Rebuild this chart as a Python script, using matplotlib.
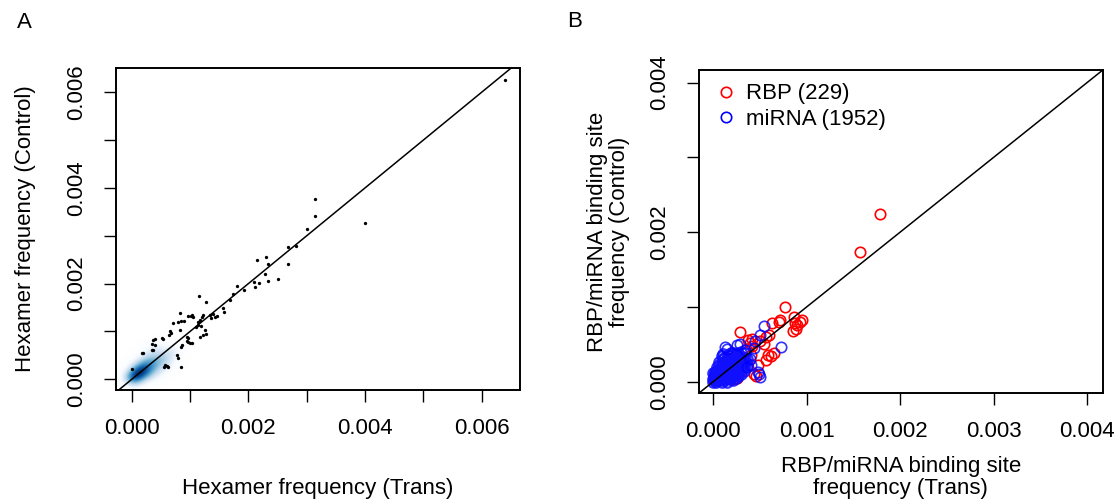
import numpy as np
import matplotlib.pyplot as plt
from matplotlib.colors import LinearSegmentedColormap

plt.rcParams['font.family'] = ['Liberation Sans', 'DejaVu Sans']
plt.rcParams['font.size'] = 16

# ---- panel A: hexamer frequencies, in units of 1e-4 ----
# outlying hexamers drawn as single points
hex_trans = [64.0, 31.5, 31.5, 40.0, 30.1, 26.8, 28.1, 26.8, 21.4, 23.0, 23.3, 22.9,
             25.1, 23.3, 21.8, 21.2, 20.9, 18.0, 19.3, 17.4, 16.9, 15.7, 15.8, 14.3,
             14.6, 13.4, 12.3, 11.5, 12.7, 9.7, 10.2, 10.5, 8.3, 10.3, 11.4, 11.0,
             11.8, 7.1, 6.6, 6.8, 6.4, 8.3, 8.5, 9.0, 7.9, 12.7, 11.7, 12.2, 9.7,
             10.0, 9.4, 10.3, 5.4, 5.2, 3.7, 4.0, 3.4, 3.6, 8.6, 8.5, 1.7, 2.0, 7.7,
             8.0, 5.7, 6.3, 6.0, 5.5, 8.5, 0.0, 13.6, 14.0, 11.7, 12.0, 11.3, 12.6,
             9.4, 9.7, 4.0, 3.4]
hex_control = [62.6, 37.8, 34.2, 32.7, 31.5, 27.7, 27.8, 24.1, 24.9, 25.5, 24.1, 22.0,
               21.0, 20.6, 20.1, 19.3, 20.3, 19.5, 18.7, 17.8, 16.6, 15.0, 14.1, 13.1,
               13.2, 13.5, 13.5, 17.4, 16.1, 13.3, 13.2, 13.0, 13.9, 13.5, 11.4, 11.0,
               11.2, 11.7, 10.0, 9.7, 9.2, 10.3, 12.1, 12.2, 12.0, 9.5, 8.9, 9.2, 8.6,
               7.5, 8.0, 7.6, 8.4, 8.7, 8.2, 7.2, 6.1, 6.2, 7.2, 6.8, 5.4, 5.6, 5.1,
               4.4, 3.0, 2.6, 2.8, 2.6, 2.6, 2.1, 12.8, 13.6, 12.5, 13.0, 12.0, 10.3,
               8.8, 7.9, 8.4, 7.4]
# bulk of hexamers near the origin (density centres) and relative weight
bulk_trans = [0.2, 0.6, 1.0, 1.4, 1.8, 2.3, 2.8, 3.4, 4.0, 4.7, 5.4, 6.2, 7.0,
              1.2, 2.0, 2.8, 3.6, 4.4, 2.4, 3.4, 4.4, 5.4, 6.2]
bulk_control = [0.2, 0.6, 1.0, 1.4, 1.8, 2.2, 2.6, 3.1, 3.6, 4.1, 4.6, 5.2, 5.8,
                2.2, 3.2, 4.2, 5.2, 6.2, 1.0, 1.6, 2.3, 3.0, 3.8]
bulk_weight = [1.0, 1.0, 1.0, 0.9, 0.8, 0.65, 0.55, 0.45, 0.38, 0.3, 0.24, 0.16, 0.1,
               0.4, 0.35, 0.28, 0.2, 0.12, 0.35, 0.3, 0.22, 0.15, 0.08]

# ---- panel B: binding site frequencies ----
# outliers in units of 1e-4
rbp_trans = [17.8, 15.7, 7.7, 7.0, 7.2, 8.6, 8.8, 9.3, 9.0, 8.5, 8.9, 9.5, 6.3, 5.7,
             6.0, 2.9, 3.7, 4.2, 3.9, 5.4, 5.0, 5.9, 5.7, 6.2, 6.5, 4.6, 4.4, 3.2,
             2.8, 2.0, 3.5, 4.2, 4.8, 4.0]
rbp_control = [22.4, 17.3, 10.0, 8.0, 8.3, 8.6, 7.9, 8.0, 7.6, 6.8, 7.0, 8.2, 7.8, 6.0,
               6.3, 6.7, 5.6, 5.7, 5.2, 5.1, 5.4, 3.6, 2.9, 3.4, 3.8, 0.7, 1.0, 3.3,
               3.0, 3.8, 4.4, 4.8, 2.2, 3.6]
mirna_trans = [5.4, 5.0, 7.3, 4.8, 5.0, 4.9, 3.6, 4.1, 2.9, 2.6, 3.4, 1.5, 1.3, 4.4,
               3.9, 4.5]
mirna_control = [7.4, 6.2, 4.7, 1.3, 0.6, 1.0, 2.0, 2.2, 5.1, 4.9, 4.2, 4.4, 4.6, 4.5,
                 3.1, 5.5]
# crowded sites near the origin, in units of 1e-5
rbp_core_trans = [2, 5, 8, 10, 12, 14, 16, 18, 20, 22, 24, 26, 28, 30, 32, 19, 13, 7,
                  4, 25, 9, 15, 21, 27, 11, 17, 23]
rbp_core_control = [2, 6, 3, 10, 15, 6, 20, 12, 25, 18, 10, 28, 22, 15, 30, 32, 27, 14,
                    10, 5, 20, 9, 4, 35, 23, 30, 13]
mirna_core_trans = [0, 0, 1, 0, 1, 2,
                    3, 3, 2, 3, 4, 4, 2,
                    6, 6, 5, 7, 6, 6, 5, 7,
                    9, 9, 10, 9, 8, 9, 10, 9, 8, 10,
                    12, 12, 11, 12, 13, 12, 12, 11, 13, 11,
                    15, 15, 14, 15, 16, 15, 15, 16, 14, 16,
                    18, 18, 19, 18, 17, 18, 18, 19, 17, 19,
                    21, 21, 22, 21, 20, 21, 22, 21, 20, 22,
                    24, 24, 23, 24, 25, 24, 24, 23, 25,
                    27, 27, 28, 27, 26, 27, 27, 26,
                    30, 30, 31, 30, 29, 30, 29,
                    33, 33, 32, 33, 34, 32,
                    36, 36, 35]
mirna_core_control = [0, 4, 8, 12, 2, 6,
                      0, 5, 10, 15, 20, 2, 13,
                      2, 7, 12, 17, 22, 27, 10, 4,
                      0, 5, 10, 15, 20, 25, 30, 34, 12, 22,
                      2, 7, 12, 17, 22, 27, 32, 37, 4, 19,
                      0, 5, 10, 15, 20, 25, 30, 36, 12, 27,
                      3, 8, 13, 18, 23, 28, 34, 39, 16, 6,
                      2, 7, 12, 17, 22, 27, 32, 38, 19, 10,
                      5, 10, 15, 20, 25, 30, 36, 22, 12,
                      8, 13, 18, 23, 28, 33, 39, 16,
                      10, 16, 22, 28, 34, 40, 19,
                      14, 20, 26, 32, 38, 24,
                      22, 30, 26]

fig = plt.figure(figsize=(11.2, 5.04), dpi=100)
axA = fig.add_axes([0.1036, 0.2262, 0.3607, 0.639])
axB = fig.add_axes([0.624, 0.2202, 0.3607, 0.641])

# ---------- panel A ----------
xlimA = (-0.00027, 0.00666)
ylimA = (-0.000224, 0.00651)
gx = np.linspace(xlimA[0], xlimA[1], 600)
gy = np.linspace(ylimA[0], ylimA[1], 600)
GX, GY = np.meshgrid(gx, gy)
dens = np.zeros_like(GX)
bw = 0.00009
for bx, by, w in zip(bulk_trans, bulk_control, bulk_weight):
    dens += w * np.exp(-((GX - bx * 1e-4) ** 2 + (GY - by * 1e-4) ** 2) / (2 * bw ** 2))
dens = (dens / dens.max()) ** 0.55

blues9 = ["#F7FBFF", "#DEEBF7", "#C6DBEF", "#9ECAE1", "#6BAED6",
          "#4292C6", "#2171B5", "#08519C", "#08306B"]
cmap = LinearSegmentedColormap.from_list("smooth", ["white"] + blues9)
axA.imshow(dens, cmap=cmap, origin='lower', aspect='auto', vmin=0, vmax=1,
           extent=[xlimA[0], xlimA[1], ylimA[0], ylimA[1]], interpolation='bilinear',
           zorder=0)
axA.plot(np.array(hex_trans) * 1e-4, np.array(hex_control) * 1e-4, 'o', color='black',
         markersize=2.4, markeredgewidth=0, zorder=2)
axA.axline((0, 0), slope=1, color='black', lw=1.1, zorder=3)
axA.set_xlim(xlimA)
axA.set_ylim(ylimA)
axA.set_xticks([i * 0.001 for i in range(7)])
axA.set_xticklabels(['0.000', '', '0.002', '', '0.004', '', '0.006'])
axA.set_yticks([i * 0.001 for i in range(7)])
axA.set_yticklabels(['0.000', '', '0.002', '', '0.004', '', '0.006'], rotation=90, va='center')
axA.set_xlabel('Hexamer frequency (Trans)', labelpad=28)
axA.set_ylabel('Hexamer frequency (Control)', labelpad=22)

# ---------- panel B ----------
xlimB = (-0.000153, 0.00417)
ylimB = (-0.000151, 0.00417)
ms = 7.5
axB.plot(np.array(rbp_core_trans) * 1e-5, np.array(rbp_core_control) * 1e-5, 'o',
         mfc='none', mec='red', mew=1.3, markersize=ms, zorder=2)
axB.plot(np.array(rbp_trans) * 1e-4, np.array(rbp_control) * 1e-4, 'o',
         mfc='none', mec='red', mew=1.2, markersize=ms, zorder=2, label='RBP (229)')
axB.plot(np.array(mirna_core_trans) * 1e-5, np.array(mirna_core_control) * 1e-5, 'o',
         mfc='none', mec='#1010ff', mew=1.6, markersize=ms, alpha=0.85, zorder=3)
axB.plot(np.array(mirna_trans) * 1e-4, np.array(mirna_control) * 1e-4, 'o',
         mfc='none', mec='blue', mew=1.2, markersize=ms, alpha=0.8, zorder=3,
         label='miRNA (1952)')
axB.axline((0, 0), slope=1, color='black', lw=1.1, zorder=4)
axB.set_xlim(xlimB)
axB.set_ylim(ylimB)
axB.set_xticks([i * 0.001 for i in range(5)])
axB.set_xticklabels(['0.000', '0.001', '0.002', '0.003', '0.004'])
axB.set_yticks([i * 0.001 for i in range(5)])
axB.set_yticklabels(['0.000', '', '0.002', '', '0.004'], rotation=90, va='center')
axB.set_xlabel('RBP/miRNA binding site\nfrequency (Trans)', labelpad=10, linespacing=1.05)
axB.set_ylabel('RBP/miRNA binding site\nfrequency (Control)', labelpad=14, linespacing=1.05)
leg = axB.legend(loc='upper left', frameon=False, handletextpad=0.3, borderaxespad=0.2,
                 handlelength=1.2, labelspacing=0.2, fontsize=16)
for h in leg.legend_handles:
    h.set_alpha(1)

for ax in (axA, axB):
    for s in ax.spines.values():
        s.set_linewidth(1.4)
    ax.tick_params(direction='out', length=8.5, width=1.0, pad=12, labelsize=16)

fig.text(0.022, 0.955, 'A', fontsize=16, ha='center', va='center')
fig.text(0.513, 0.957, 'B', fontsize=16, ha='center', va='center')

fig.savefig('out.png', dpi=100)
